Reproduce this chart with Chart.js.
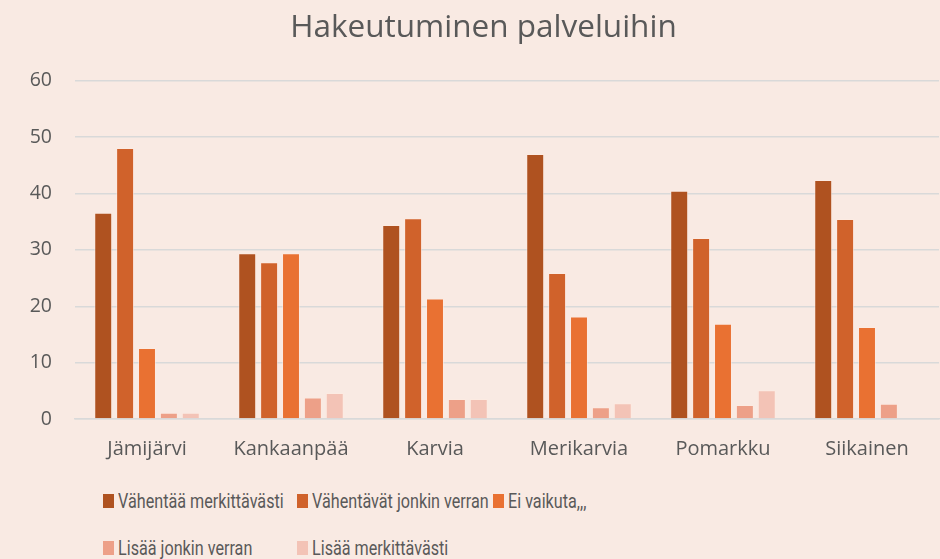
<!DOCTYPE html>
<html>
<head>
<meta charset="utf-8">
<script src="https://cdn.jsdelivr.net/npm/chart.js@4.4.1/dist/chart.umd.min.js"></script>
<style>
  html, body { margin: 0; padding: 0; background: #F9EAE3; }
  #wrap { position: relative; width: 940px; height: 559px; background: #F9EAE3; overflow: hidden; }
  #cv { position: absolute; left: 0; top: 0; }
  .leg { position: absolute; font-family: "Roboto", sans-serif; font-size: 21px; color: #595959; white-space: nowrap; line-height: 24px; }
  .leg span.sw { position: absolute; left: 0; top: 5px; width: 11px; height: 14px; }
  .leg span.tx { position: absolute; left: 15px; top: 0; transform: scaleX(0.77); transform-origin: 0 0; }
</style>
</head>
<body>
<div id="wrap">
  <canvas id="cv" width="940" height="479"></canvas>
</div>
<script>
const categories = ["Jämijärvi", "Kankaanpää", "Karvia", "Merikarvia", "Pomarkku", "Siikainen"];
const seriesNames = ["Vähentää merkittävästi", "Vähentävät jonkin verran", "Ei vaikuta,,,", "Lisää jonkin verran", "Lisää merkittävästi"];
const vahentaaMerkittavasti = [36.6, 29.4, 34.4, 47.0, 40.5, 42.4];
const vahentavatJonkinVerran = [48.1, 27.8, 35.6, 25.9, 32.1, 35.5];
const eiVaikuta = [12.6, 29.4, 21.4, 18.2, 16.9, 16.3];
const lisaaJonkinVerran = [1.1, 3.8, 3.55, 2.1, 2.5, 2.7];
const lisaaMerkittavasti = [1.1, 4.6, 3.55, 2.8, 5.1, null];
const yTicks = [0, 10, 20, 30, 40, 50, 60];
const title = "Hakeutuminen palveluihin";

const colors = ["#AF5220", "#D0622B", "#E97132", "#EDA088", "#F3C3B6"];
const seriesValues = [vahentaaMerkittavasti, vahentavatJonkinVerran, eiVaikuta, lisaaJonkinVerran, lisaaMerkittavasti];

const bgPlugin = {
  id: 'bg',
  beforeDraw(chart) {
    const c = chart.ctx;
    c.save(); c.fillStyle = '#F9EAE3'; c.fillRect(0, 0, chart.width, chart.height); c.restore();
  }
};

new Chart(document.getElementById('cv'), {
  type: 'bar',
  data: {
    labels: categories,
    datasets: seriesValues.map((vals, i) => ({
      label: seriesNames[i],
      data: vals,
      backgroundColor: colors[i],
      borderColor: 'rgba(255,235,225,0.55)',
      borderWidth: 1,
      barPercentage: 0.82,
      categoryPercentage: 0.76
    }))
  },
  options: {
    responsive: false,
    animation: false,
    layout: { padding: { left: 28, right: 1, top: 0, bottom: 0 } },
    plugins: {
      legend: { display: false },
      tooltip: { enabled: false },
      title: {
        display: true,
        text: title,
        color: '#595959',
        font: { family: "'Open Sans', 'Noto Sans', sans-serif", size: 31.5, weight: 'normal' },
        padding: { top: 9, bottom: 34 }
      }
    },
    scales: {
      x: {
        grid: { display: false, drawTicks: false },
        border: { display: true, color: '#D9D9D9', width: 1.5 },
        ticks: { color: '#595959', font: { family: "'Open Sans', 'Noto Sans', sans-serif", size: 20 }, padding: 18 }
      },
      y: {
        min: 0, max: 60,
        afterFit(axis) { axis.width = 47; },
        afterBuildTicks(axis) { axis.ticks = yTicks.map(v => ({ value: v })); },
        grid: { color: '#D9D9D9', lineWidth: 1.5, drawTicks: false },
        border: { display: false },
        ticks: { color: '#595959', font: { family: "'Open Sans', 'Noto Sans', sans-serif", size: 19.5 }, padding: 23 }
      }
    }
  },
  plugins: [bgPlugin]
});

// HTML legend in a grid like the reference
const legPos = [[103, 489], [297, 489], [493, 489], [103, 536], [297, 536]];
const wrap = document.getElementById('wrap');
seriesNames.forEach((name, i) => {
  const d = document.createElement('div');
  d.className = 'leg';
  d.style.left = legPos[i][0] + 'px';
  d.style.top = legPos[i][1] + 'px';
  const sw = document.createElement('span'); sw.className = 'sw'; sw.style.background = colors[i];
  const tx = document.createElement('span'); tx.className = 'tx'; tx.textContent = name;
  d.appendChild(sw); d.appendChild(tx);
  wrap.appendChild(d);
});
</script>
</body>
</html>
